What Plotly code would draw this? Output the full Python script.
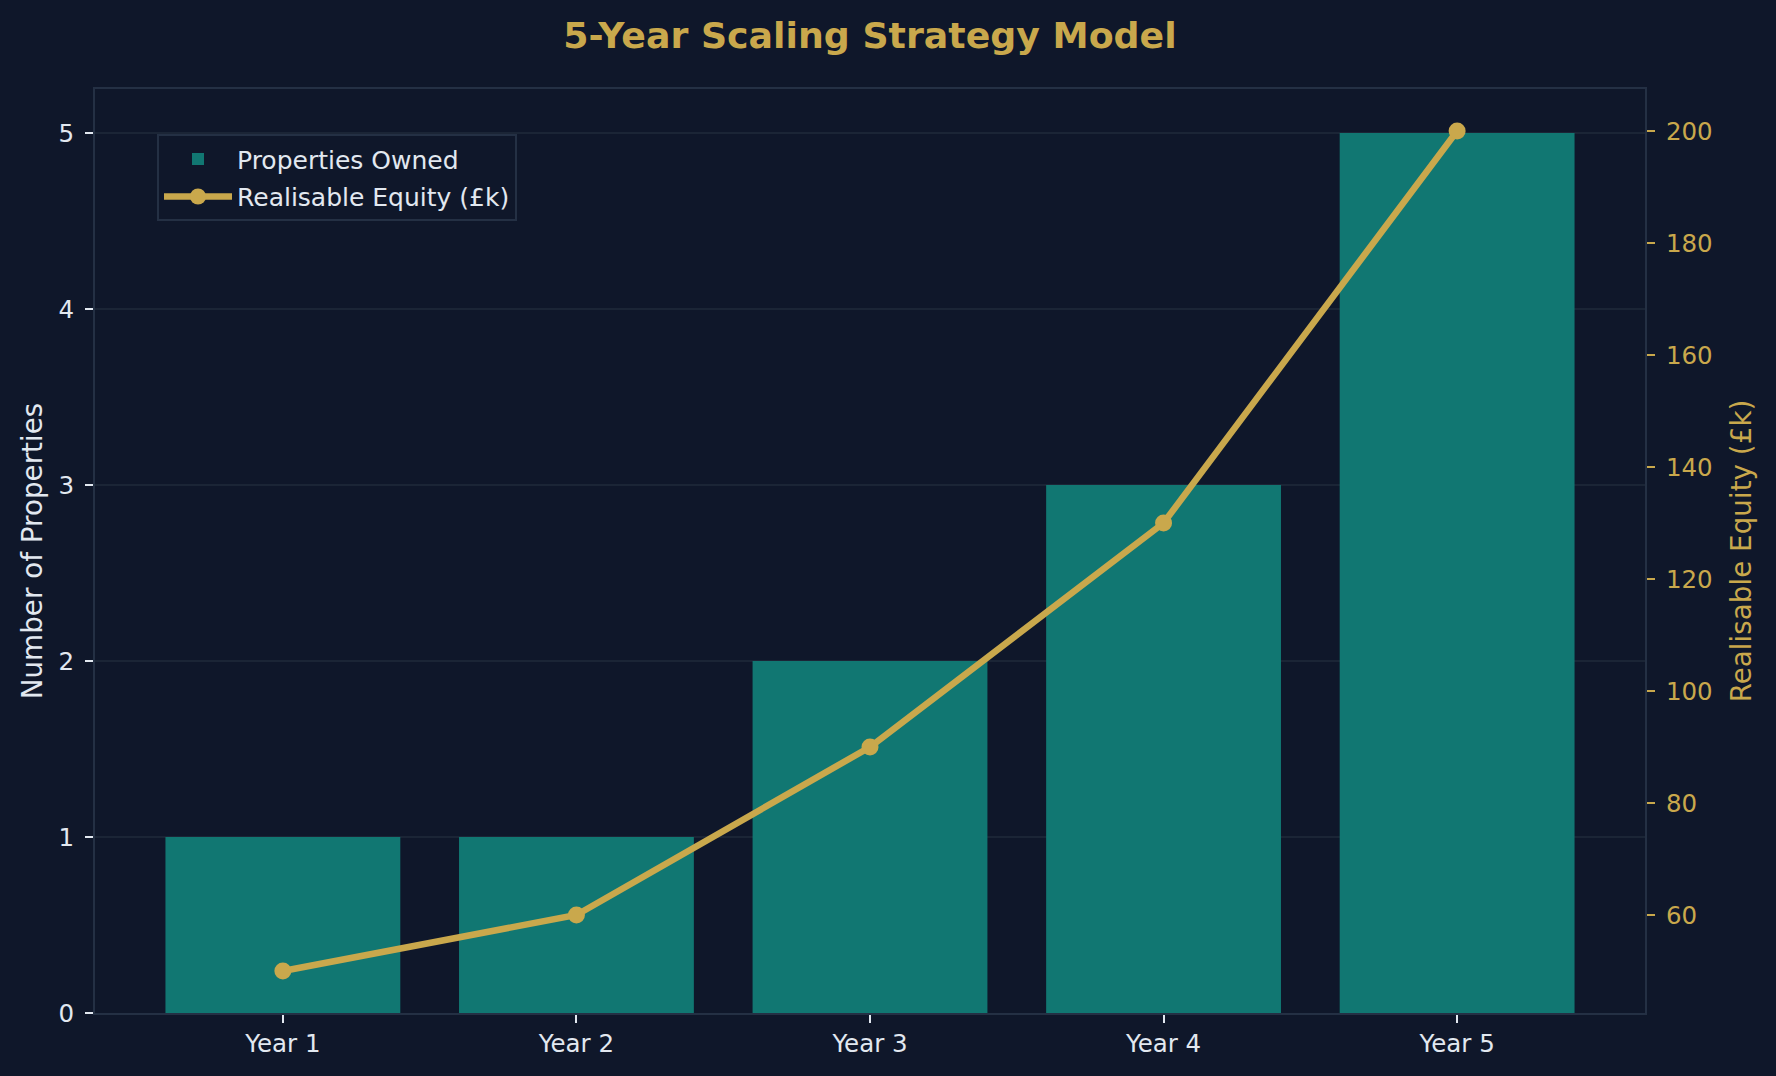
import plotly.graph_objects as go

years = ["Year 1", "Year 2", "Year 3", "Year 4", "Year 5"]
properties = [1, 1, 2, 3, 5]
equity = [50, 60, 90, 130, 200]

BG = "#0f172a"
GOLD = "#c9a84c"
TEAL = "#117772"
LIGHT = "#e2e8f0"
SPINE = "#243044"
GRID = "#1b2536"
FONT = "DejaVu Sans"

fig = go.Figure()
fig.add_trace(go.Bar(
    x=years, y=properties, name="Properties Owned",
    marker=dict(color=TEAL, line=dict(width=0)),
    yaxis="y", legendgroup="a",
))
fig.add_trace(go.Scatter(
    x=years, y=equity, name="Realisable Equity (£k)",
    mode="lines+markers",
    line=dict(color=GOLD, width=6.5),
    marker=dict(color=GOLD, size=17),
    yaxis="y2", legendgroup="b",
))

fig.update_layout(
    width=1776, height=1076,
    margin=dict(l=95, r=131, t=89, b=63),
    paper_bgcolor=BG, plot_bgcolor=BG,
    font=dict(family=FONT, color=LIGHT, size=24.5),
    bargap=0.2,
    showlegend=True,
    title=dict(
        text="<b>5-Year Scaling Strategy Model</b>",
        font=dict(family=FONT, size=36.3, color=GOLD),
        x=0.5, xref="paper", xanchor="center",
        y=1 - 35 / 1076, yref="container", yanchor="middle",
    ),
    legend=dict(
        x=0.04, y=0.951, xanchor="left", yanchor="top",
        bgcolor=BG, bordercolor=SPINE, borderwidth=2,
        font=dict(family=FONT, size=25, color=LIGHT),
        itemwidth=68, tracegroupgap=2,
    ),
    xaxis=dict(
        range=[-0.64, 4.64],
        showgrid=False,
        showline=True, linecolor=SPINE, linewidth=2, mirror=True,
        ticks="outside", ticklen=8, tickwidth=1.8, tickcolor=LIGHT,
        tickfont=dict(family=FONT, size=24.5, color=LIGHT),
        ticklabelstandoff=0,
        zeroline=False,
    ),
    yaxis=dict(
        range=[0, 5.25],
        tickvals=[0, 1, 2, 3, 4, 5],
        showgrid=True, gridcolor=GRID, gridwidth=1.5,
        showline=True, linecolor=SPINE, linewidth=2, mirror=True,
        ticks="outside", ticklen=8, tickwidth=1.8, tickcolor=LIGHT,
        tickfont=dict(family=FONT, size=24.5, color=LIGHT),
        ticklabelstandoff=6,
        zeroline=False,
        title=dict(text="Number of Properties",
                   font=dict(family=FONT, size=27.8, color=LIGHT),
                   standoff=8),
    ),
    yaxis2=dict(
        overlaying="y", side="right",
        range=[42.5, 207.5],
        tickvals=[60, 80, 100, 120, 140, 160, 180, 200],
        showgrid=False, zeroline=False,
        showline=True, linecolor=SPINE, linewidth=2,
        ticks="outside", ticklen=8, tickwidth=1.8, tickcolor=GOLD,
        tickfont=dict(family=FONT, size=24.5, color=GOLD),
        ticklabelstandoff=6,
        title=dict(text="Realisable Equity (£k)",
                   font=dict(family=FONT, size=27.8, color=GOLD),
                   standoff=20),
    ),
)

fig.write_html("out.html")
